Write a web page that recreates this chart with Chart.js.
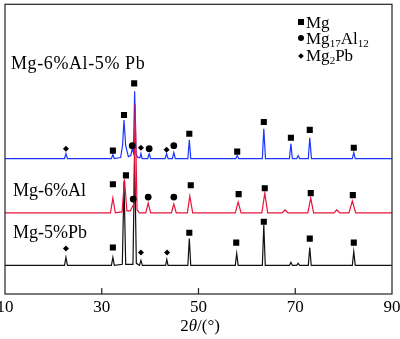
<!DOCTYPE html>
<html lang="zh">
<head>
  <meta charset="UTF-8">
  <title>XRD</title>
  <script src="https://cdn.jsdelivr.net/npm/chart.js"></script>
  <style>
    body { margin: 0; background: #fff; }
    #wrap { position: relative; width: 400px; height: 339px; font-family: 'Liberation Serif', serif; color: #000; }
    #xrd { position: absolute; left: 0; top: 0; }
    .lbl { position: absolute; white-space: nowrap; font-size: 18px; line-height: 18px; }
    .leg { position: absolute; left: 298px; white-space: nowrap; font-size: 17px; line-height: 17px; }
    .leg i { display: inline-block; background: #000; margin-right: 2px; vertical-align: 3px; }
    .leg sub { font-size: 11px; vertical-align: -3px; line-height: 0; }
    #xt { position: absolute; left: 0; width: 400px; top: 317px; text-align: center; font-size: 17px; line-height: 17px; }
  </style>
</head>
<body>
<div id="wrap">
  <canvas id="xrd" width="400" height="339"></canvas>
  <div class="lbl" style="left:11px;top:54px;letter-spacing:0.6px">Mg-6%Al-5% Pb</div>
  <div class="lbl" style="left:13px;top:181px">Mg-6%Al</div>
  <div class="lbl" style="left:13px;top:223px">Mg-5%Pb</div>
  <div class="leg" style="top:14px"><i style="width:6px;height:6px"></i>Mg</div>
  <div class="leg" style="top:30px"><i style="width:6px;height:6px;border-radius:50%"></i>Mg<sub>17</sub>Al<sub>12</sub></div>
  <div class="leg" style="top:47px"><i style="width:4px;height:4px;transform:rotate(45deg);margin:0 3px 0 1px"></i>Mg<sub>2</sub>Pb</div>
  <div id="xt">2<i>θ</i>/(°)</div>
</div>
<script>
  // 2θ ticks
  const xTicks = [10, 30, 50, 70, 90];
  const innerTicks = [30, 50, 70];

  // profiles [2θ, offset intensity]
  const mg5Pb = [
    [10,29],[22.3,29],[22.6,37],[22.9,29],
    [32.0,29],[32.3,37],[32.6,29],
    [34.25,30],[34.6,114],[34.95,30],
    [36.45,30],[36.8,139],[37.15,31],
    [37.8,29],[38.1,34],[38.4,29],
    [43.2,29],[43.45,35],[43.7,29],
    [47.8,29],[48.1,56],[48.4,29],
    [57.6,29],[57.9,41],[58.2,29],
    [63.2,29],[63.5,70],[63.8,29],
    [68.8,29],[69.1,32],[69.4,29],
    [70.3,29],[70.6,31],[70.9,29],
    [72.7,29],[73.0,47],[73.3,29],
    [81.8,29],[82.1,43],[82.4,29],[90,29]
  ];
  const mg6Al = [
    [10,82],[31.8,82],[32.3,97],[32.8,82],
    [34.2,83],[34.7,116],[35.2,84],
    [35.9,84],[36.4,89],[36.6,88],[36.9,192],[37.3,85],[37.8,82],
    [39.1,82],[39.6,92],[40.1,82],
    [44.4,82],[44.9,91],[45.4,82],
    [47.7,82],[48.2,99],[48.8,82],
    [57.6,82],[58.2,93],[58.8,82],
    [63.1,82],[63.7,102],[64.3,82],
    [67.3,82],[67.9,85],[68.5,82],
    [72.6,82],[73.2,97],[73.8,82],
    [78.0,82],[78.6,85],[79.2,82],
    [81.1,82],[81.8,94],[82.5,82],[90,82]
  ];
  const mg6Al5Pb = [
    [10,137],[22.3,137],[22.6,142],[22.9,137],
    [32.0,137],[32.3,141],[32.6,137],
    [33.9,138],[34.3,150],[34.6,176],[34.95,150],[35.5,139],
    [36.0,140],[36.3,147],[36.55,143],[36.8,205],[37.1,141],[37.5,138],
    [37.9,138],[38.1,142],[38.35,137],
    [39.5,137],[39.8,142],[40.1,137],
    [43.1,137],[43.4,142],[43.7,137],
    [44.6,137],[44.9,143],[45.2,137],
    [47.8,137],[48.1,156],[48.4,137],
    [57.7,137],[58.0,140],[58.3,137],
    [63.2,137],[63.5,167],[63.85,137],
    [68.8,137],[69.1,152],[69.4,137],
    [70.3,137],[70.6,140],[70.9,137],
    [72.7,137],[73.0,158],[73.35,137],
    [81.8,137],[82.1,143],[82.4,137],[90,137]
  ];

  // phase markers
  const mgMarks = [
    [32.3,145],[34.6,181],[36.7,213],[48.1,162],[58.0,144],[63.5,174],[69.1,158],[73.0,166],[82.1,148],
    [32.3,111],[35.0,120],[48.4,110],[58.3,101],[63.7,107],[73.2,102],[81.9,100],
    [32.3,47],[48.1,62],[57.8,52],[63.5,73],[73.0,56],[82.1,52]
  ];
  const mg17Al12Marks = [
    [36.3,150],[39.8,147],[44.9,150],
    [36.5,96],[39.6,98],[44.9,98]
  ];
  const mg2PbMarks = [
    [22.6,147],[38.1,148],[43.4,146],
    [22.6,46],[38.1,42],[43.5,42]
  ];

  const toXY = arr => arr.map(p => ({x: p[0], y: p[1]}));

  function profile(data, color, order) {
    return { data: toXY(data), borderColor: color, borderWidth: 1.2, pointRadius: 0, fill: false, tension: 0, order: order };
  }
  function marks(data, style, r) {
    return { data: toXY(data), showLine: false, pointStyle: style, pointRadius: r, backgroundColor: '#000', borderColor: '#000', borderWidth: 0, order: 0 };
  }

  const framePlugin = {
    id: 'frame',
    afterDraw(chart) {
      const ctx = chart.ctx, a = chart.chartArea, x = chart.scales.x;
      ctx.save();
      ctx.strokeStyle = '#222';
      ctx.lineWidth = 1.2;
      ctx.strokeRect(a.left, a.top, a.right - a.left, a.bottom - a.top);
      ctx.beginPath();
      innerTicks.forEach(v => {
        const px = x.getPixelForValue(v);
        ctx.moveTo(px, a.bottom);
        ctx.lineTo(px, a.bottom - 6);
      });
      ctx.stroke();
      ctx.restore();
    }
  };

  new Chart(document.getElementById('xrd'), {
    type: 'line',
    data: {
      datasets: [
        marks(mgMarks, 'rect', 4.3),
        marks(mg17Al12Marks, 'circle', 3.4),
        marks(mg2PbMarks, 'rectRot', 3),
        profile(mg6Al, 'rgb(232,20,60)', 1),
        profile(mg6Al5Pb, 'rgb(25,55,255)', 2),
        profile(mg5Pb, '#111', 3)
      ]
    },
    options: {
      responsive: false,
      animation: false,
      layout: { padding: { left: 5, right: 8, top: 1, bottom: 17 } },
      plugins: { legend: { display: false }, tooltip: { enabled: false } },
      scales: {
        x: {
          type: 'linear', min: 10, max: 90,
          afterBuildTicks: s => { s.ticks = xTicks.map(v => ({value: v})); },
          afterFit: s => { s.paddingLeft = 0; s.paddingRight = 0; },
          grid: { display: false, drawTicks: false },
          border: { display: false },
          ticks: { padding: 3.8, color: '#000', maxRotation: 0, font: { family: 'Liberation Serif', size: 17 } }
        },
        y: { display: false, min: 0, max: 293 }
      }
    },
    plugins: [framePlugin]
  });
</script>
</body>
</html>
